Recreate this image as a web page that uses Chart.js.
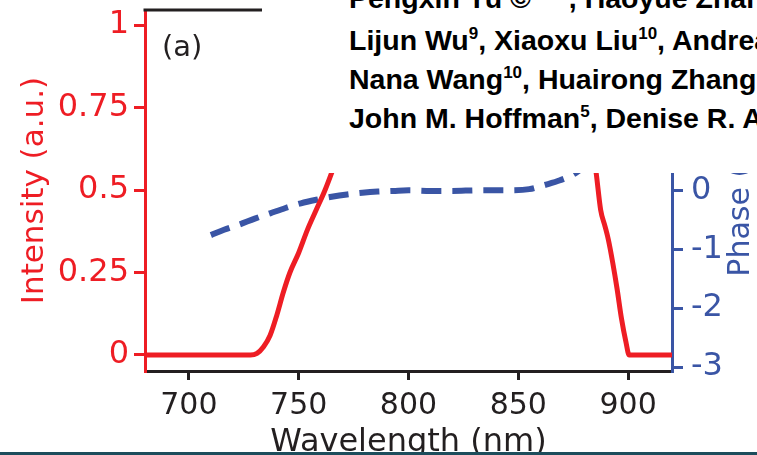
<!DOCTYPE html>
<html>
<head>
<meta charset="utf-8">
<script src="https://cdn.jsdelivr.net/npm/chart.js@4/dist/chart.umd.min.js"></script>
<style>
  html, body { margin: 0; padding: 0; background: #fff; }
  #wrap { position: relative; width: 757px; height: 455px; overflow: hidden; background: #fff; }
  #chart { position: absolute; left: 0; top: 0; }
  #panel { position: absolute; left: 162px; top: 29px; font: 29px "DejaVu Sans", sans-serif; color: #231f20; line-height: 34px; }
  #authors { position: absolute; left: 262px; top: 0; width: 495px; height: 173px; background: #fff; overflow: hidden; }
  #authors .line { position: absolute; left: 87px; white-space: nowrap; font: bold 28.5px "Liberation Sans", Arial, sans-serif; color: #000; line-height: 32px; }
  #authors .sup { font-size: 17px; position: relative; top: -11px; }
  #rule { position: absolute; left: 0; top: 452px; width: 757px; height: 3px; background: #1d4d5c; }
</style>
</head>
<body>
<div id="wrap">
  <canvas id="chart" width="757" height="455"></canvas>
  <div id="panel">(a)</div>
  <div id="authors">
    <div class="line" style="top:-18px">Pengxin Yu ©<span class="sup">1,2,3</span>, Haoyue Zhang<span class="sup">4</span></div>
    <div class="line" style="top:24px">Lijun Wu<span class="sup">9</span>, Xiaoxu Liu<span class="sup">10</span>, Andrea</div>
    <div class="line" style="top:63px">Nana Wang<span class="sup">10</span>, Huairong Zhang</div>
    <div class="line" style="top:102px">John M. Hoffman<span class="sup">5</span>, Denise R. A</div>
  </div>
  <div id="rule"></div>
</div>
<script>
// Axis ticks and labels
const wavelengthTicks = [700, 750, 800, 850, 900];
const intensityTicks = [0, 0.25, 0.5, 0.75, 1];
const intensityTickLabels = ['0', '0.25', '0.5', '0.75', '1'];
const phaseTicks = [-3, -2, -1, 0, 1, 2, 3];
const phaseTickLabels = ['-3', '-2', '-1', '0', '1', '2', '3'];

// Emission spectrum (normalised intensity)
const intensityNm = [680, 700, 720, 728, 731, 734, 737, 740, 743, 746, 750, 754, 758, 762, 766, 772, 780, 790, 805, 820, 840, 860, 872, 880, 884, 885.5, 887.5, 889.5, 891, 893, 895, 897, 899, 900.5, 905, 920];
const intensityVal = [0, 0, 0, 0, 0.005, 0.025, 0.06, 0.12, 0.19, 0.25, 0.31, 0.38, 0.44, 0.50, 0.57, 0.68, 0.82, 0.93, 0.99, 1.0, 0.98, 0.95, 0.90, 0.80, 0.62, 0.55, 0.44, 0.39, 0.35, 0.28, 0.20, 0.11, 0.04, 0.0, 0, 0];

// Spectral phase
const phaseNm = [710, 716, 723, 730, 737, 744, 751, 758, 765, 772, 779, 786, 793, 800, 810, 820, 832, 845, 855, 862, 869, 876, 883, 890];
const phaseVal = [-0.76, -0.67, -0.58, -0.48, -0.39, -0.30, -0.22, -0.16, -0.11, -0.07, -0.04, -0.02, -0.01, 0, -0.01, -0.01, 0, 0, 0.02, 0.09, 0.17, 0.29, 0.5, 0.8];

const RED = '#ee1d24';
const BLUE = '#3a55a5';
const INK = '#231f20';
const X_TICK_FONT = { family: 'DejaVu Sans', size: 30 };
const Y_TICK_FONT = { family: 'DejaVu Sans', size: 32 };
const X_TITLE_FONT = { family: 'DejaVu Sans', size: 32, lineHeight: 0.8 };
const Y_TITLE_FONT = { family: 'DejaVu Sans', size: 31, lineHeight: 1.0 };

const toPoints = (xs, ys) => xs.map((x, i) => ({ x, y: ys[i] }));
const fixedTicks = values => scale => { scale.ticks = values.map(v => ({ value: v })); };
const labelFor = (values, labels) => v => { const i = values.indexOf(v); return i < 0 ? '' : labels[i]; };
// Fixed axis box size, without the automatic label overhang padding
const fixedSize = (prop, size) => s => {
  s[prop] = size;
  s.paddingTop = s.paddingBottom = s.paddingLeft = s.paddingRight = 0;
};

// Frame top edge and the right-hand title reading bottom to top
const extras = {
  id: 'extras',
  afterDraw(chart) {
    const { ctx, chartArea } = chart;
    ctx.save();
    ctx.strokeStyle = INK;
    ctx.lineWidth = 3;
    ctx.beginPath();
    ctx.moveTo(chartArea.left - 1.5, chartArea.top);
    ctx.lineTo(chartArea.right, chartArea.top);
    ctx.stroke();
    ctx.translate(chartArea.right + 69, (chartArea.top + chartArea.bottom) / 2);
    ctx.rotate(-Math.PI / 2);
    ctx.fillStyle = BLUE;
    ctx.font = '30px "DejaVu Sans"';
    ctx.textAlign = 'center';
    ctx.textBaseline = 'middle';
    ctx.fillText('Phase (rad)', 0, 0);
    ctx.restore();
  }
};

new Chart(document.getElementById('chart'), {
  type: 'line',
  data: {
    datasets: [
      {
        label: 'Intensity',
        data: toPoints(intensityNm, intensityVal),
        yAxisID: 'y',
        borderColor: RED,
        borderWidth: 5,
        pointRadius: 0,
        cubicInterpolationMode: 'monotone',
        fill: false
      },
      {
        label: 'Phase',
        data: toPoints(phaseNm, phaseVal),
        yAxisID: 'y2',
        borderColor: BLUE,
        borderWidth: 6,
        borderDash: [20, 11],
        pointRadius: 0,
        cubicInterpolationMode: 'monotone',
        fill: false
      }
    ]
  },
  options: {
    responsive: false,
    animation: false,
    devicePixelRatio: 1,
    layout: { autoPadding: false, padding: { top: 10, left: 0, right: 0, bottom: 0 } },
    plugins: { legend: { display: false }, tooltip: { enabled: false } },
    scales: {
      x: {
        type: 'linear',
        position: 'bottom',
        min: 680,
        max: 920,
        afterBuildTicks: fixedTicks(wavelengthTicks),
        afterFit: fixedSize('height', 84),
        border: { color: INK, width: 3 },
        grid: { drawOnChartArea: false, color: INK, lineWidth: 3, tickLength: 9 },
        ticks: { font: X_TICK_FONT, color: INK, padding: 8, maxRotation: 0, callback: v => String(v) },
        title: { display: true, text: 'Wavelength (nm)', font: X_TITLE_FONT, color: INK, padding: { top: 0, bottom: 0 } }
      },
      y: {
        type: 'linear',
        position: 'left',
        min: -0.0485,
        max: 1.0455,
        afterBuildTicks: fixedTicks(intensityTicks),
        afterFit: fixedSize('width', 145),
        border: { color: RED, width: 3 },
        grid: { drawOnChartArea: false, color: RED, lineWidth: 3, tickLength: 11 },
        ticks: { font: Y_TICK_FONT, color: RED, padding: 5, callback: labelFor(intensityTicks, intensityTickLabels) },
        title: { display: true, text: 'Intensity (a.u.)', font: Y_TITLE_FONT, color: RED, padding: { top: 19, bottom: 0 } }
      },
      y2: {
        type: 'linear',
        position: 'right',
        min: -3.066,
        max: 3.06,
        afterBuildTicks: fixedTicks(phaseTicks),
        afterFit: fixedSize('width', 85),
        border: { color: BLUE, width: 3 },
        grid: { drawOnChartArea: false, color: BLUE, lineWidth: 3, tickLength: 11 },
        ticks: { font: Y_TICK_FONT, color: BLUE, padding: 8, callback: labelFor(phaseTicks, phaseTickLabels) }
      }
    }
  },
  plugins: [extras]
});
</script>
</body>
</html>
